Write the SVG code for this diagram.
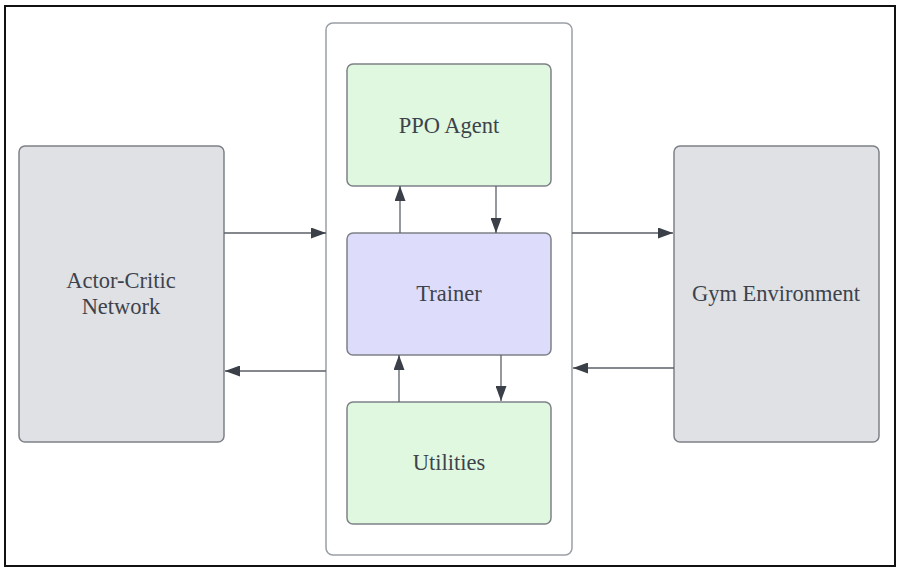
<svg xmlns="http://www.w3.org/2000/svg" width="900" height="573" viewBox="0 0 900 573">
<style>
.box{stroke:#7d8187;stroke-width:1.5}
.ext{fill:#dfe1e5}
.grn{fill:#e1f8e0}
.pur{fill:#dedcfb}
.lbl{font-family:"Liberation Serif","Times New Roman",serif;font-size:22.5px;fill:#3d434c;text-anchor:middle;dominant-baseline:central}
.con{stroke:#5b6068;stroke-width:1.3;fill:none;marker-end:url(#ah)}
</style>
<defs>
<marker id="ah" viewBox="0 0 15 11" refX="15" refY="5.5" markerWidth="15" markerHeight="11" markerUnits="userSpaceOnUse" orient="auto">
<path d="M0,0 L15,5.5 L0,11 z" fill="#3a3f48"/>
</marker>
</defs>
<rect x="0" y="0" width="900" height="573" fill="#ffffff"/>
<rect x="5" y="6" width="890" height="560" fill="none" stroke="#111" stroke-width="2"/>
<g id="container"><rect x="326" y="23" width="246" height="532" rx="7" fill="#ffffff" stroke="#9a9ea5" stroke-width="1.5"/></g>
<g id="actor-critic"><rect class="box ext" x="19" y="146" width="205" height="296" rx="6"/><text class="lbl" x="121" y="280">Actor-Critic</text><text class="lbl" x="121" y="306">Network</text></g>
<g id="gym"><rect class="box ext" x="674" y="146" width="205" height="296" rx="6"/><text class="lbl" x="776" y="293">Gym Environment</text></g>
<g id="ppo"><rect class="box grn" x="347" y="64" width="204" height="122" rx="6"/><text class="lbl" x="449" y="125">PPO Agent</text></g>
<g id="trainer"><rect class="box pur" x="347" y="233" width="204" height="122" rx="6"/><text class="lbl" x="449" y="293">Trainer</text></g>
<g id="utilities"><rect class="box grn" x="347" y="402" width="204" height="122" rx="6"/><text class="lbl" x="449" y="462">Utilities</text></g>
<g id="connectors">
<line class="con" x1="224" y1="233" x2="326" y2="233"/>
<line class="con" x1="326" y1="371" x2="225" y2="371"/>
<line class="con" x1="572" y1="233" x2="673" y2="233"/>
<line class="con" x1="674" y1="368" x2="573" y2="368"/>
<line class="con" x1="400" y1="233" x2="400" y2="186"/>
<line class="con" x1="496" y1="186" x2="496" y2="233"/>
<line class="con" x1="399" y1="402" x2="399" y2="355"/>
<line class="con" x1="501" y1="355" x2="501" y2="401"/>
</g>
</svg>
